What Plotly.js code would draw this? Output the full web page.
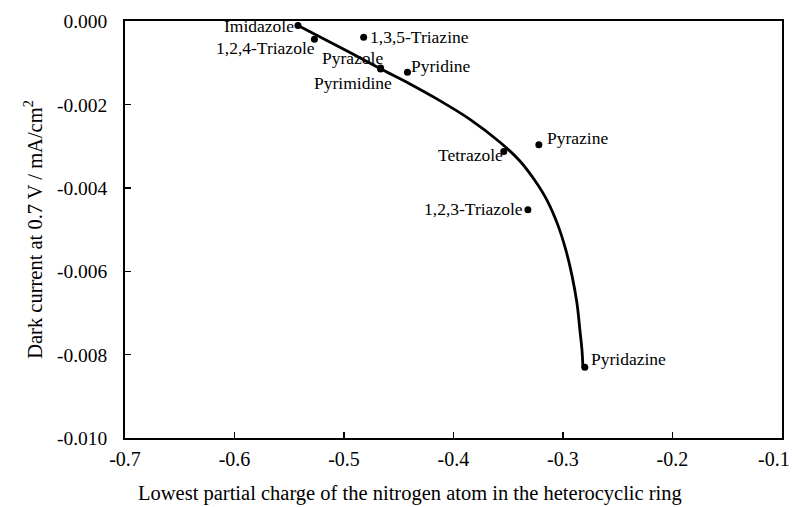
<!DOCTYPE html>
<html>
<head>
<meta charset="utf-8">
<script src="https://cdn.plot.ly/plotly-3.0.1.min.js"></script>
<style>
  html, body { margin: 0; padding: 0; background: #fff; }
  #chart { width: 792px; height: 507px; }
</style>
</head>
<body>
<div id="chart"></div>
<script>
// ---- data ----
const compounds = ["Imidazole", "1,2,4-Triazole", "1,3,5-Triazine", "Pyrazole", "Pyrimidine",
                   "Pyridine", "Tetrazole", "Pyrazine", "1,2,3-Triazole", "Pyridazine"];
const partialCharge = [-0.542, -0.527, -0.482, -0.4665, -0.4665, -0.442, -0.354, -0.322, -0.332, -0.280];
const darkCurrent  = [-0.00010, -0.00043, -0.00038, -0.00112, -0.00114, -0.00122, -0.00312, -0.00296, -0.00452, -0.00830];

// fitted trend curve
const fitCharge  = [-0.542, -0.5037, -0.4671, -0.4397, -0.4151, -0.3849, -0.3575, -0.3393, -0.3256, -0.3146,
                    -0.3046, -0.2973, -0.2918, -0.2872, -0.2845, -0.2826, -0.2817];
const fitCurrent = [-0.00010, -0.00062, -0.00113, -0.00150, -0.00186, -0.00235, -0.00290, -0.00335, -0.00382, -0.00429,
                    -0.00489, -0.00549, -0.00609, -0.00676, -0.00741, -0.00789, -0.00832];

const xTickVals = [-0.7, -0.6, -0.5, -0.4, -0.3, -0.2, -0.1];
const xTickText = ["-0.7", "-0.6", "-0.5", "-0.4", "-0.3", "-0.2", "-0.1"];
const yTickVals = [0, -0.002, -0.004, -0.006, -0.008, -0.010];
const yTickText = ["0.000", "-0.002", "-0.004", "-0.006", "-0.008", "-0.010"];

const xTitle = "Lowest partial charge of the nitrogen atom in the heterocyclic ring";
const yTitle = "Dark current at 0.7 V / mA/cm<sup>2</sup>";

// ---- label placement (style) ----
const labelStyle = {
  "Imidazole":      {xanchor: "right", dx: -2, dy: 0},
  "1,2,4-Triazole": {xanchor: "right", dx: 3,  dy: -9},
  "1,3,5-Triazine": {xanchor: "left",  dx: 4,  dy: 0},
  "Pyrazole":       {xanchor: "right", dx: 4,  dy: 10},
  "Pyrimidine":     {xanchor: "center",dx: -28, dy: -14},
  "Pyridine":       {xanchor: "left",  dx: 2,  dy: 6},
  "Tetrazole":      {xanchor: "right", dx: 1,  dy: -4},
  "Pyrazine":       {xanchor: "left",  dx: 6,  dy: 7},
  "1,2,3-Triazole": {xanchor: "right", dx: -3, dy: 1},
  "Pyridazine":     {xanchor: "left",  dx: 4,  dy: 8}
};

const FONT = "Liberation Serif, Times New Roman, serif";
const TICK_SIZE = 20;

const traces = [
  {
    x: fitCharge, y: fitCurrent, type: "scatter", mode: "lines",
    line: {color: "#000", width: 2.8, shape: "spline", smoothing: 1},
    hoverinfo: "skip", showlegend: false
  },
  {
    x: partialCharge, y: darkCurrent, type: "scatter", mode: "markers",
    marker: {color: "#000", size: 7},
    text: compounds, showlegend: false
  }
];

const annotations = compounds.map((name, i) => {
  const s = labelStyle[name];
  return {
    x: partialCharge[i], y: darkCurrent[i], xref: "x", yref: "y",
    text: name, showarrow: false,
    xanchor: s.xanchor, yanchor: "middle",
    xshift: s.dx, yshift: s.dy,
    font: {family: FONT, size: 17.5, color: "#000"}
  };
});

// x-axis title (sits left of the plot centre in the reference)
annotations.push({
  x: 0.434, y: 0, xref: "paper", yref: "paper",
  yanchor: "middle", xanchor: "center", yshift: -55,
  text: xTitle, showarrow: false,
  font: {family: FONT, size: 20.5, color: "#000"}
});

// last x tick label is pulled inside the page edge, as in the reference
const lastIdx = xTickVals.length - 1;
const xTickTextShown = xTickText.map((t, i) => (i === lastIdx ? "" : t));
annotations.push({
  x: xTickVals[lastIdx], y: 0, xref: "x", yref: "paper",
  xanchor: "right", yanchor: "middle", xshift: 10, yshift: -21,
  text: xTickText[lastIdx], showarrow: false,
  font: {family: FONT, size: TICK_SIZE, color: "#000"}
});

const layout = {
  width: 792, height: 507,
  margin: {l: 125, r: 10, t: 21, b: 69, pad: 0},
  paper_bgcolor: "#fff", plot_bgcolor: "#fff",
  font: {family: FONT, color: "#000"},
  xaxis: {
    range: [-0.7, -0.0999], autorange: false,
    tickmode: "array", tickvals: xTickVals, ticktext: xTickTextShown,
    ticks: "inside", ticklen: 6, tickwidth: 1.5, tickcolor: "#000",
    ticklabelstandoff: 2,
    showline: true, linecolor: "#000", linewidth: 1.8, mirror: true,
    showgrid: false, zeroline: false,
    tickfont: {family: FONT, size: TICK_SIZE, color: "#000"},
    automargin: false
  },
  yaxis: {
    range: [-0.0100, 0.00001], autorange: false,
    tickmode: "array", tickvals: yTickVals, ticktext: yTickText,
    ticks: "inside", ticklen: 6, tickwidth: 1.5, tickcolor: "#000",
    ticklabelstandoff: 12, ticklabeloverflow: "allow",
    showline: true, linecolor: "#000", linewidth: 1.8, mirror: true,
    showgrid: false, zeroline: false,
    tickfont: {family: FONT, size: 19.5, color: "#000"},
    title: {text: yTitle, font: {family: FONT, size: 20.5, color: "#000"}, standoff: 9},
    automargin: false
  },
  annotations: annotations,
  showlegend: false
};

Plotly.newPlot("chart", traces, layout, {displayModeBar: false, staticPlot: true});
</script>
</body>
</html>
